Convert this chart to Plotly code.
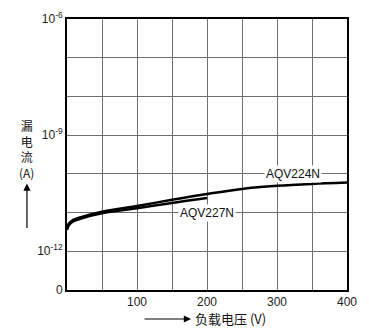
import plotly.graph_objects as go

# Data (load voltage V, leakage current A)
v_224 = [0, 2, 7, 21, 50, 100, 150, 200, 250, 300, 350, 400]
i_224 = [10**-11.40, 10**-11.30, 10**-11.21, 10**-11.11, 10**-10.975, 10**-10.83,
         10**-10.67, 10**-10.52, 10**-10.39, 10**-10.31, 10**-10.26, 10**-10.225]
v_227 = [0, 2, 7, 21, 50, 100, 150, 200]
i_227 = [10**-11.45, 10**-11.35, 10**-11.25, 10**-11.15, 10**-11.02, 10**-10.89,
         10**-10.75, 10**-10.625]

x_ticks = [0, 50, 100, 150, 200, 250, 300, 350, 400]
x_ticktext = ["", "", "100", "", "200", "", "300", "", "400"]
y_ticks = [1e-13, 1e-12, 1e-11, 1e-10, 1e-9, 1e-8, 1e-7, 1e-6]
y_ticktext = ["0", "10<sup>-12</sup>", "", "", "10<sup>-9</sup>", "", "", "10<sup>-6</sup>"]
y_title_chars = ["漏", "电", "流", "(A)"]

FONT = "Liberation Sans, Arial, sans-serif"
CJK = "Noto Sans CJK SC, sans-serif"

fig = go.Figure()
fig.add_trace(go.Scatter(x=v_224, y=i_224, mode="lines", line=dict(color="black", width=2.5, shape="spline"),
                         name="AQV224N", showlegend=False))
fig.add_trace(go.Scatter(x=v_227, y=i_227, mode="lines", line=dict(color="black", width=2.5, shape="spline"),
                         name="AQV227N", showlegend=False))

fig.update_xaxes(range=[0, 400], tickvals=x_ticks, ticktext=x_ticktext, showgrid=True,
                 gridcolor="#6e6e6e", gridwidth=1.2, showline=True, mirror=True, linecolor="black",
                 linewidth=2, ticks="", zeroline=False, tickfont=dict(family=FONT, size=12, color="#222"))
fig.update_yaxes(type="log", range=[-13, -6], tickvals=y_ticks, ticktext=y_ticktext, showgrid=True,
                 gridcolor="#6e6e6e", gridwidth=1.2, showline=True, mirror=True, linecolor="black",
                 linewidth=2, ticks="", zeroline=False, tickfont=dict(family=FONT, size=12, color="#222"))

ann = [
    dict(x=323, y=-10, xref="x", yref="y", text="AQV224N", showarrow=False, bgcolor="white",
         borderpad=1, font=dict(family=FONT, size=12, color="#111")),
    dict(x=200, y=-11, xref="x", yref="y", text="AQV227N", showarrow=False, bgcolor="white",
         borderpad=1, font=dict(family=FONT, size=12, color="#111")),
    # y-axis title
    dict(x=-0.143, y=0.52, xref="paper", yref="paper", text="<br>".join(y_title_chars), showarrow=False,
         align="center", xanchor="center", yanchor="middle", font=dict(family=CJK, size=12, color="#111")),
    dict(x=-0.143, y=0.393, xref="paper", yref="paper", text="", showarrow=True, arrowhead=2,
         arrowsize=1.2, arrowwidth=1.2, arrowcolor="black", ax=0, ay=46),
    # x-axis title
    dict(x=0.443, y=-0.107, xref="paper", yref="paper", text="", showarrow=True, arrowhead=2,
         arrowsize=1.2, arrowwidth=1.2, arrowcolor="black", ax=-48, ay=0),
    dict(x=0.45, y=-0.107, xref="paper", yref="paper", text="负载电压 (V)", showarrow=False,
         xanchor="left", yanchor="middle", font=dict(family=CJK, size=13, color="#111")),
]

fig.update_layout(width=369, height=328, margin=dict(l=67, r=22, t=10, b=38),
                  plot_bgcolor="white", paper_bgcolor="white", annotations=ann)
fig.write_html("out.html")
